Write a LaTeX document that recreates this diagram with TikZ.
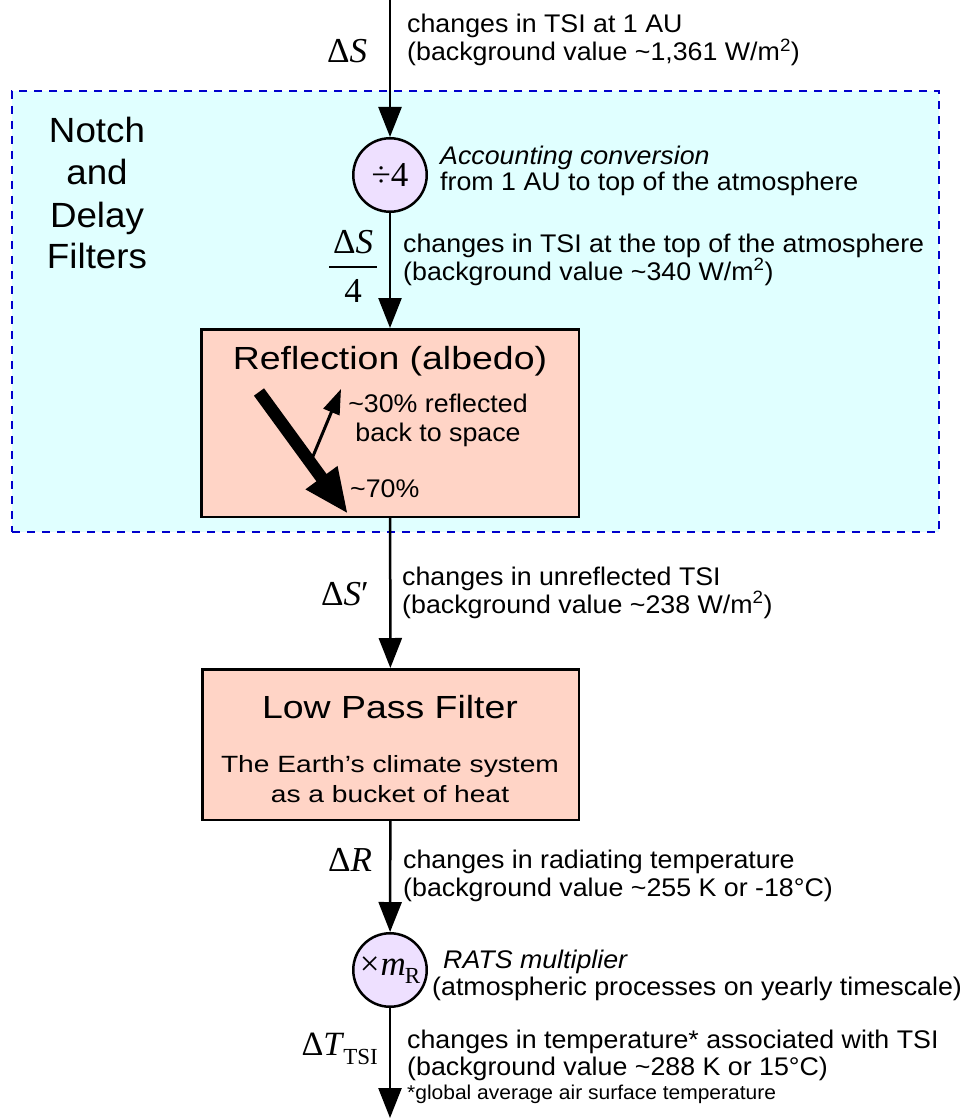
\documentclass[tikz,border=0pt]{standalone}
\usepackage{fontspec}
\setmainfont{Liberation Sans}
\newfontfamily\lblfam{Liberation Sans}[FakeStretch=1.05]
\newfontfamily\ttlfam{Liberation Sans}[FakeStretch=1.17]
\newfontfamily\bodyfam{Liberation Sans}[FakeStretch=1.2]
\newfontfamily\mathfam{Liberation Serif}
\usetikzlibrary{arrows.meta}
\definecolor{boxfill}{RGB}{255,212,198}
\definecolor{circfill}{RGB}{238,224,255}
\definecolor{regionfill}{RGB}{224,255,255}
\definecolor{regionline}{RGB}{0,0,204}
\newcommand{\bgtilde}{\textasciitilde}
\begin{document}
\begin{tikzpicture}[x=1pt,y=-1pt,
  conn/.style={line width=2.5pt, -{Triangle[length=30pt,width=23pt]}},
  blockbox/.style={draw, line width=2.5pt, fill=boxfill, inner sep=0},
  opcirc/.style={draw, circle, line width=2.5pt, fill=circfill, inner sep=0, minimum size=73.5pt, font=\mathfam\fontsize{35}{40}\selectfont},
  region/.style={draw=regionline, fill=regionfill, line width=2pt, dash pattern=on 8pt off 7pt, inner sep=0},
  lbl/.style={anchor=base west, inner sep=0, font=\lblfam\fontsize{25.5}{28}\selectfont},
  lblc/.style={anchor=base, inner sep=0, font=\lblfam\fontsize{25.5}{28}\selectfont},
  note/.style={anchor=base west, inner sep=0, font=\lblfam\fontsize{20}{22}\selectfont},
  bigtxt/.style={anchor=base, inner sep=0, font=\lblfam\fontsize{35}{40}\selectfont},
  ttl/.style={anchor=base, inner sep=0, font=\ttlfam\fontsize{32}{36}\selectfont},
  body/.style={anchor=base, inner sep=0, font=\bodyfam\fontsize{23.5}{27}\selectfont},
  sym/.style={anchor=base, inner sep=0, font=\mathfam\fontsize{35}{40}\selectfont},
]
\useasboundingbox (0,0) rectangle (971,1118);

% shaded region of notch and delay filters
\node[region, minimum width=927pt, minimum height=441pt] (nd) at (475.5,311.5) {};
\node[bigtxt] (nd1) at (97,143) {Notch};
\node[bigtxt] (nd2) at (97,185) {and};
\node[bigtxt] (nd3) at (97,227) {Delay};
\node[bigtxt] (nd4) at (97,268) {Filters};

% blocks
\coordinate (topc) at (390,0);
\coordinate (botc) at (390,1118);
\node[opcirc] (div) at (390,175) {÷4};
\node[blockbox, minimum width=377.5pt, minimum height=187.5pt] (refl) at (390,423) {};
\node[blockbox, minimum width=376.5pt, minimum height=150.5pt] (lpf) at (390.5,744.5) {};
\node[opcirc] (mult) at (390,970) {×\kern1pt\textit{m}\kern-1pt\raisebox{-0.25em}{\fontsize{23}{23}\selectfont R}};

% connectors
\draw[conn] (topc) -- (div);
\draw[conn] (div) -- (refl);
\draw[conn] (refl) -- (lpf);
\draw[conn] (lpf) -- (mult);
\draw[conn] (mult) -- (botc);

% top input
\node[sym] (dS) at (347,63) {Δ\textit{S}};
\node[lbl] (l1a) at (407,33) {changes in TSI at 1 AU};
\node[lbl] (l1b) at (407,61) {(background value \bgtilde1,361 W/m\textsuperscript{2})};

% accounting conversion
\node[lbl] (acca) at (440,165) {\itshape Accounting conversion};
\node[lbl] (accb) at (440,190) {from 1 AU to top of the atmosphere};

% Delta S / 4
\node[sym] (fnum) at (353,253) {Δ\textit{S}};
\node[sym] (fden) at (353,302) {4};
\draw[line width=1.8pt] (329,267) -- (377,267);
\node[lbl] (l2a) at (403,252) {changes in TSI at the top of the atmosphere};
\node[lbl] (l2b) at (403,280) {(background value \bgtilde340 W/m\textsuperscript{2})};

% reflection block contents
\node[ttl] (reflt) at (390,369) {Reflection (albedo)};
\coordinate (sunA) at (259,392);
\coordinate (sunB) at (348,514);
\coordinate (refA) at (311,461);
\coordinate (refB) at (341,389);
\draw[line width=12.5pt, -{Triangle[length=45pt,width=36pt]}] (sunA) -- (sunB);
\draw[line width=3pt, -{Triangle[length=25pt,width=17pt]}] (refA) -- (refB);
\node[lblc] (r30a) at (438,412) {\bgtilde30\% reflected};
\node[lblc] (r30b) at (438,441) {back to space};
\node[lbl] (r70) at (350,497) {\bgtilde70\%};

% unreflected
\node[sym] (dSp) at (345,605) {Δ\textit{S}′};
\node[lbl] (l3a) at (402,585) {changes in unreflected TSI};
\node[lbl] (l3b) at (402,613) {(background value \bgtilde238 W/m\textsuperscript{2})};

% low pass filter contents
\node[ttl] (lpft) at (390,718) {Low Pass Filter};
\node[body] (lpfa) at (390,772) {The Earth’s climate system};
\node[body] (lpfb) at (390,802) {as a bucket of heat};

% radiating temperature
\node[sym] (dR) at (350,871) {Δ\textit{R}};
\node[lbl] (l4a) at (403,868) {changes in radiating temperature};
\node[lbl] (l4b) at (403,896) {(background value \bgtilde255 K or -18°C)};

% RATS multiplier
\node[lbl] (ratsa) at (443,968) {\itshape RATS multiplier};
\node[lbl] (ratsb) at (432,995) {(atmospheric processes on yearly timescale)};

% output
\node[sym, anchor=base east, font=\mathfam\fontsize{34}{38}\selectfont] (dT) at (378,1055) {Δ\textit{T}\kern-1pt\raisebox{-9pt}{\fontsize{23}{23}\selectfont TSI}};
\node[lbl] (l5a) at (407,1048) {changes in temperature* associated with TSI};
\node[lbl] (l5b) at (407,1075) {(background value \bgtilde288 K or 15°C)};
\node[note] (l5c) at (407,1099) {*global average air surface temperature};
\end{tikzpicture}
\end{document}
